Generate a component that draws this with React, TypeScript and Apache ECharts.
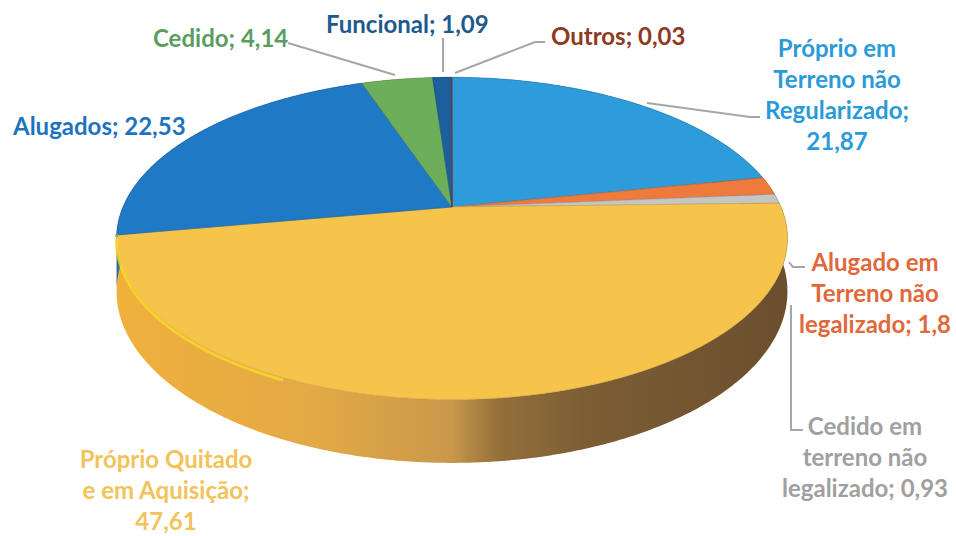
import React, { useEffect, useRef } from 'react';
import * as echarts from 'echarts';

// ---------- data ----------
const categories = [
  'Próprio em Terreno não Regularizado',
  'Alugado em Terreno não legalizado',
  'Cedido em terreno não legalizado',
  'Próprio Quitado e em Aquisição',
  'Alugados',
  'Cedido',
  'Funcional',
  'Outros',
];
const values = [21.87, 1.8, 0.93, 47.61, 22.53, 4.14, 1.09, 0.03];

// ---------- styles ----------
const sliceColors = ['#2E9BDB', '#EE7B3B', '#C5C5C5', '#F7C44B', '#1F79C4', '#6DAE5B', '#1C5F9C', '#9C3B1F'];
const labelColors = ['#2B9AD8', '#E0683A', '#A0A0A0', '#F2C35A', '#1E73BE', '#5A9E5F', '#1F5A8E', '#8E3A22'];

// label layout: position, alignment, wrap width (chars), value on its own line
const labelLayout = [
  { x: 837, y: 93.5, align: 'center', wrap: 13, valueNewLine: true },
  { x: 875, y: 292, align: 'center', wrap: 12, valueNewLine: false },
  { x: 865, y: 456, align: 'center', wrap: 12, valueNewLine: false },
  { x: 166, y: 489, align: 'center', wrap: 15, valueNewLine: true },
  { x: 13, y: 125.5, align: 'left', wrap: 40, valueNewLine: false },
  { x: 153, y: 37, align: 'left', wrap: 40, valueNewLine: false },
  { x: 326, y: 23.5, align: 'left', wrap: 40, valueNewLine: false },
  { x: 551, y: 35, align: 'left', wrap: 40, valueNewLine: false },
];
const leaderLines = [
  [[647, 103], [750, 117], [760, 117]],
  [[789, 262], [793, 267], [805, 267]],
  [[791, 305], [791, 430], [803, 430]],
  [[288, 43], [395, 75]],
  [[443, 38], [443, 72]],
  [[455, 73], [535, 42], [545, 42]],
];

// ---------- projection (perspective disc) ----------
const AX = 452, AY = 207, RX = 329, RY = 155, PERSP = 0.195, DEPTH = 51;
function proj(theta: number, drop = 0): number[] {
  const k = 1 / (1 + PERSP * Math.cos(theta));
  return [AX + RX * Math.sin(theta) * k, AY - RY * Math.cos(theta) * k + drop * k];
}

function hexToRgb(h: string) {
  const n = parseInt(h.slice(1), 16);
  return [(n >> 16) & 255, (n >> 8) & 255, n & 255];
}
function mix(a: string, b: string, t: number) {
  const x = hexToRgb(a), y = hexToRgb(b);
  const c = x.map((v, i) => Math.round(v + (y[i] - v) * t));
  return 'rgb(' + c.join(',') + ')';
}

function wrapText(s: string, width: number) {
  const words = s.split(' ');
  const lines: string[] = [];
  let cur = '';
  for (const w of words) {
    if (cur && (cur + ' ' + w).length > width) {
      lines.push(cur);
      cur = w;
    } else cur = cur ? cur + ' ' + w : w;
  }
  if (cur) lines.push(cur);
  return lines;
}
function fmt(v: number) {
  return String(v).replace('.', ',');
}

export default function App() {
  const ref = useRef<HTMLDivElement>(null);
  useEffect(() => {
    document.body.style.margin = '0';
    const chart = echarts.init(ref.current!, null, { renderer: 'svg' });
    const total = values.reduce((a, b) => a + b, 0);
    const cum = values.map((_, i) => values.slice(0, i).reduce((a, b) => a + b, 0));
    const step = Math.PI / 360;

    const renderItem = (params: any, api: any) => {
      const i = params.dataIndex;
      const v = api.value(0) as number;
      const a0 = (cum[i] / total) * Math.PI * 2;
      const a1 = a0 + (v / total) * Math.PI * 2;
      const n = Math.max(2, Math.ceil((a1 - a0) / step));
      const topArc: number[][] = [];
      const botArc: number[][] = [];
      for (let j = 0; j <= n; j++) {
        const t = a0 + ((a1 - a0) * j) / n;
        topArc.push(proj(t));
        botArc.push(proj(t, DEPTH));
      }
      const color = sliceColors[i];
      const isYellow = i === 3;
      const wallFill = isYellow
        ? new echarts.graphic.LinearGradient(115, 0, 787, 0, [
            { offset: 0, color: '#F0B03C' },
            { offset: 0.3, color: '#E3A945' },
            { offset: 0.5, color: '#C9984A' },
            { offset: 0.57, color: '#94703A' },
            { offset: 0.7, color: '#7C5D34' },
            { offset: 1, color: '#6B4F2E' },
          ], true)
        : new echarts.graphic.LinearGradient(115, 0, 787, 0, [
            { offset: 0, color: mix(color, '#000000', 0.1) },
            { offset: 0.5, color: mix(color, '#000000', 0.3) },
            { offset: 1, color: mix(color, '#3a2a10', 0.55) },
          ], true);
      const children: any[] = [
        {
          type: 'polygon',
          shape: { points: topArc.concat(botArc.slice().reverse()) },
          style: { fill: wallFill },
          z2: 1,
        },
        {
          type: 'polygon',
          shape: { points: [[AX, AY]].concat(topArc) },
          style: { fill: color, stroke: mix(color, '#000000', 0.2), lineWidth: 0.6 },
          z2: 10,
        },
      ];
      // bright rim highlight on the front-left edge
      const h0 = Math.max(a0, (205 / 180) * Math.PI);
      const h1 = Math.min(a1, (261 / 180) * Math.PI);
      if (h1 > h0) {
        const pts: number[][] = [];
        for (let t = h0; t <= h1; t += step) pts.push(proj(t, 2));
        children.push({
          type: 'polyline',
          shape: { points: pts },
          style: { stroke: mix(color, '#FFF000', 0.45), lineWidth: 3, opacity: 0.8, fill: 'none' },
          z2: 11,
        });
      }
      return { type: 'group', children };
    };

    const graphics: any[] = [];
    leaderLines.forEach((pts) => {
      graphics.push({
        type: 'polyline',
        shape: { points: pts },
        style: { stroke: '#A6A6A6', lineWidth: 2, fill: 'none' },
        z: 5,
      });
    });
    categories.forEach((name, i) => {
      const L = labelLayout[i];
      const lines = wrapText(name, L.wrap);
      let text: string;
      if (L.valueNewLine) text = lines.join('\n') + ';\n' + fmt(values[i]);
      else text = lines.join('\n') + '; ' + fmt(values[i]);
      graphics.push({
        type: 'text',
        x: L.x,
        y: L.y,
        z: 6,
        style: {
          text,
          fill: labelColors[i],
          fontFamily: 'Lato',
          fontWeight: 'bold',
          fontSize: 24,
          lineHeight: 31,
          align: L.align,
          verticalAlign: 'middle',
        },
      });
    });

    chart.setOption({
      animation: false,
      backgroundColor: '#FFFFFF',
      series: [
        {
          type: 'custom',
          coordinateSystem: 'none',
          renderItem,
          data: values.map((v, i) => ({ value: v, name: categories[i] })),
          silent: true,
        },
      ],
      graphic: graphics,
    });
    return () => chart.dispose();
  }, []);
  return <div ref={ref} style={{ width: 956, height: 536 }} />;
}
